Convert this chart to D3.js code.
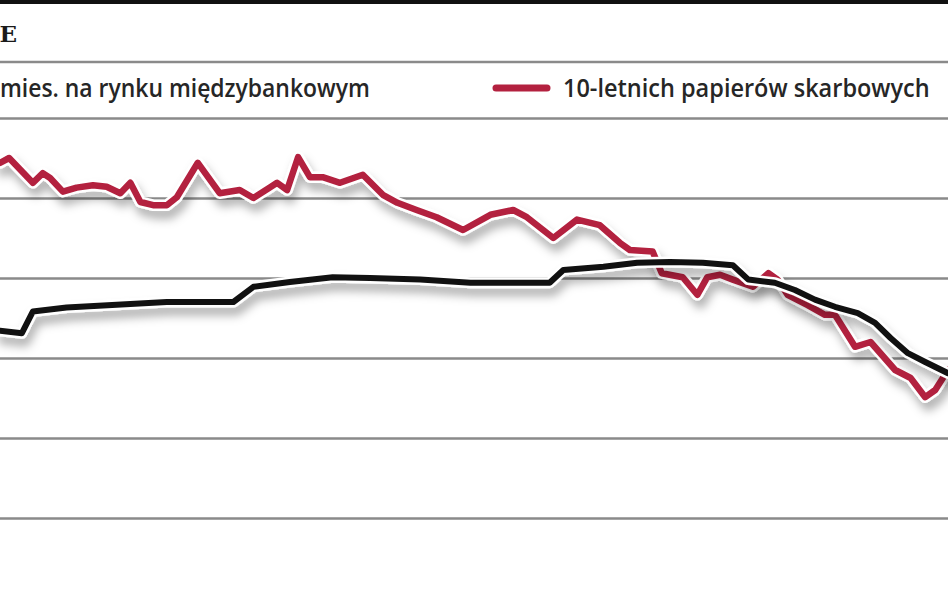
<!DOCTYPE html>
<html>
<head>
<meta charset="utf-8">
<script src="https://cdn.jsdelivr.net/npm/d3@7"></script>
<style>
  html, body { margin: 0; padding: 0; background: #fff; }
  svg { display: block; }
</style>
</head>
<body>
<svg id="chart" width="948" height="593"></svg>
<script>
// ---- data ----
const titleTail = "E";
const legendLabels = ["mies. na rynku międzybankowym", "10-letnich papierów skarbowych"];
const gridValues = [7, 6, 5, 4, 3, 2];

// 10-year treasury yield: week index, %
const bondWeeks = [0, 1.0, 3.6, 4.7, 5.5, 6.9, 8.4, 10.2, 11.7, 13.2, 14.3, 15.4, 16.8, 18.3, 19.4,
  21.7, 24.1, 26.3, 27.8, 29.6, 30.4, 31.5, 32.7, 34.0, 35.4, 37.3, 39.8, 42.0, 43.6, 45.7,
  47.9, 50.8, 53.8, 56.3, 57.8, 60.7, 63.3, 65.8, 68.0, 69.1, 71.6, 72.6, 74.9, 76.5, 77.6,
  79.0, 80.4, 82.6, 84.3, 85.3, 86.4, 88.6, 90.5, 91.6, 93.8, 95.5, 98.2, 99.9, 101.5, 102.6, 104];
const bondYield = [6.44, 6.50, 6.19, 6.31, 6.25, 6.08, 6.13, 6.16, 6.14, 6.06, 6.19, 5.95, 5.91, 5.91, 6.01,
  6.44, 6.06, 6.10, 6.00, 6.13, 6.19, 6.10, 6.51, 6.26, 6.26, 6.19, 6.29, 6.04, 5.94, 5.85,
  5.76, 5.60, 5.79, 5.85, 5.76, 5.50, 5.73, 5.66, 5.44, 5.35, 5.33, 5.06, 5.01, 4.79, 5.01,
  5.04, 4.98, 4.89, 5.06, 4.98, 4.79, 4.66, 4.54, 4.54, 4.14, 4.20, 3.85, 3.75, 3.51, 3.60, 3.85];

// 3-month interbank rate: week index, %
const wiborWeeks = [0, 2.4, 3.6, 7.3, 18.3, 25.6, 27.8, 31.8, 36.5, 40.6, 46.1, 51.6, 60.3, 61.8,
  66.2, 69.9, 73.5, 77.1, 80.4, 82.1, 85.0, 87.2, 89.4, 91.6, 94.1, 96.0, 97.7, 99.6, 101.5, 104];
const wiborRate = [4.34, 4.31, 4.58, 4.63, 4.70, 4.70, 4.89, 4.95, 5.01, 5.00, 4.98, 4.94, 4.94, 5.10,
  5.14, 5.19, 5.20, 5.19, 5.16, 4.98, 4.94, 4.85, 4.73, 4.64, 4.56, 4.44, 4.25, 4.06, 3.95, 3.81];

const weekDomain = [0, 104];
const valueDomain = [2, 7];

// ---- drawing ----
const W = 948, H = 593;
const svg = d3.select("#chart");

const x = d3.scaleLinear().domain(weekDomain).range([0, W]);
const y = d3.scaleLinear().domain(valueDomain).range([518, 118]);

// filter: soft drop shadow
const defs = svg.append("defs");
const f = defs.append("filter").attr("id", "shadow")
  .attr("x", "-10%").attr("y", "-40%").attr("width", "120%").attr("height", "200%");
f.append("feDropShadow").attr("dx", 3).attr("dy", 8).attr("stdDeviation", 5)
  .attr("flood-color", "#000").attr("flood-opacity", 0.3);

// top black border
svg.append("rect").attr("x", 0).attr("y", 0).attr("width", W).attr("height", 4).attr("fill", "#111");

// title tail
svg.append("text").attr("x", 17).attr("y", 42).attr("text-anchor", "end")
  .attr("font-family", "DejaVu Serif").attr("font-weight", "bold").attr("font-size", 23)
  .attr("fill", "#1a1a1a").text(titleTail);

// separator line under title
svg.append("line").attr("x1", 0).attr("x2", W).attr("y1", 62).attr("y2", 62)
  .attr("stroke", "#8a8a8a").attr("stroke-width", 2.5);

// gridlines via axis
const grid = svg.append("g").attr("class", "grid")
  .call(d3.axisLeft(y).tickValues(gridValues).tickSize(-W).tickFormat(""));
grid.select(".domain").remove();
grid.selectAll(".tick line").attr("stroke", "#8a8a8a").attr("stroke-width", 2.5);

// legend: text squeezed horizontally to the reference width
const legendFont = "Open Sans";
function legendText(label, x0, baseline, targetW) {
  const t = svg.append("text").attr("x", 0).attr("y", 0)
    .attr("font-family", legendFont).attr("font-size", 25).attr("font-weight", 600)
    .attr("fill", "#262626").text(label);
  const len = t.node().getComputedTextLength();
  t.attr("transform", `translate(${x0},${baseline}) scale(${targetW / len},1)`);
}
legendText(legendLabels[0], 0, 97, 370);
svg.append("line").attr("x1", 496).attr("x2", 547).attr("y1", 88).attr("y2", 88)
  .attr("stroke", "#b3213f").attr("stroke-width", 7).attr("stroke-linecap", "round");
legendText(legendLabels[1], 563, 97, 367);

// series
const bond = bondWeeks.map((w, i) => ({ w, v: bondYield[i] }));
const wibor = wiborWeeks.map((w, i) => ({ w, v: wiborRate[i] }));
const line = d3.line().x(d => x(d.w)).y(d => y(d.v));

function drawSeries(data, color, width) {
  const g = svg.append("g");
  g.append("path").datum(data).attr("d", line)
    .attr("fill", "none").attr("stroke", "#fff").attr("stroke-width", width + 5)
    .attr("stroke-linejoin", "round").attr("stroke-linecap", "round")
    .attr("filter", "url(#shadow)");
  g.append("path").datum(data).attr("d", line)
    .attr("fill", "none").attr("stroke", color).attr("stroke-width", width)
    .attr("stroke-linejoin", "round").attr("stroke-linecap", "round");
}
drawSeries(bond, "#b3213f", 6.5);
drawSeries(wibor, "#111111", 6);
</script>
</body>
</html>
